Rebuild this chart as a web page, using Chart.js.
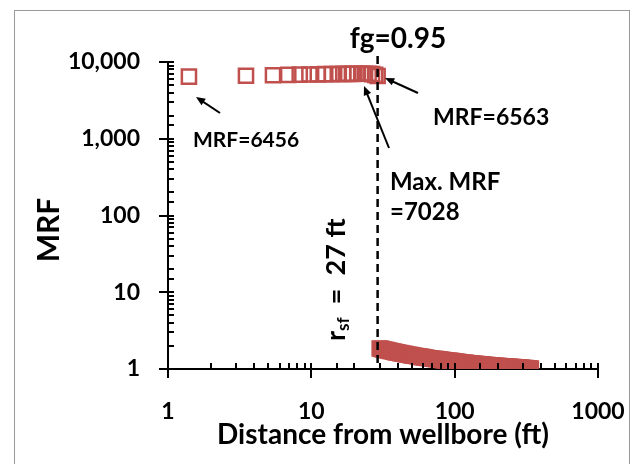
<!DOCTYPE html>
<html>
<head>
<meta charset="utf-8">
<script src="https://cdn.jsdelivr.net/npm/chart.js@4.4.1/dist/chart.umd.min.js"></script>
<style>
    html, body { margin: 0; padding: 0; background: #fff; }
    #wrap { position: relative; width: 632px; height: 464px; overflow: hidden; }
    #frame { position: absolute; left: 14px; top: 10px; width: 614px; height: 480px; border: 1px solid #999; }
    canvas { position: absolute; left: 0; top: 0; }
</style>
</head>
<body>
<div id="wrap">
    <div id="frame"></div>
    <canvas id="mrfChart" width="632" height="464"></canvas>
</div>
<script>
// Distance from wellbore (ft) and MRF, foam region (inside r_sf)
const innerDist = [1.4, 3.5, 5.4, 6.9, 8.3, 9.7, 11.1, 12.5, 13.9, 15.3, 16.7, 18.1, 19.5, 20.9, 22.3, 23.7, 25.1, 26.5, 27.9, 29.0];
const innerMrf = [6456, 6620, 6720, 6790, 6840, 6880, 6910, 6940, 6960, 6980, 6995, 7005, 7015, 7022, 7026, 7028, 7020, 6950, 6800, 6563];

// Outside the foam front
const outerDist = [30, 30.8, 31.7, 32.6, 33.5, 34.4, 35.4, 36.4, 37.4, 38.5,
    39.5, 40.6, 41.8, 42.9, 44.1, 45.4, 46.6, 47.9, 49.3, 50.7,
    52.1, 53.5, 55.0, 56.6, 58.2, 59.8, 61.5, 63.2, 64.9, 66.8,
    68.6, 70.6, 72.5, 74.6, 76.7, 78.8, 81.0, 83.3, 85.6, 88.0,
    90.5, 93.0, 95.6, 98.3, 101, 104, 107, 110, 113, 116,
    119, 122, 126, 129, 133, 137, 140, 144, 148, 153,
    157, 161, 166, 170, 175, 180, 185, 190, 196, 201,
    207, 213, 219, 225, 231, 237, 244, 251, 258, 265,
    272, 280, 288, 296, 304, 313, 321, 330, 340];
const outerMrf = [1.850, 1.828, 1.804, 1.782, 1.761, 1.741, 1.720, 1.701, 1.682, 1.662,
    1.646, 1.628, 1.610, 1.594, 1.578, 1.562, 1.547, 1.532, 1.517, 1.503,
    1.489, 1.477, 1.464, 1.451, 1.438, 1.426, 1.415, 1.403, 1.393, 1.382,
    1.372, 1.361, 1.352, 1.342, 1.332, 1.324, 1.315, 1.306, 1.298, 1.290,
    1.282, 1.274, 1.267, 1.259, 1.245, 1.237, 1.229, 1.222, 1.215, 1.208,
    1.201, 1.195, 1.188, 1.182, 1.175, 1.168, 1.163, 1.157, 1.151, 1.144,
    1.139, 1.134, 1.128, 1.123, 1.118, 1.113, 1.108, 1.103, 1.098, 1.094,
    1.089, 1.085, 1.080, 1.076, 1.072, 1.068, 1.064, 1.060, 1.056, 1.052,
    1.048, 1.044, 1.040, 1.036, 1.032, 1.027, 1.023, 1.018, 1.013];

const rsfLine = 29; // dashed marker of foam front
const xTickLabels = ["1", "10", "100", "1000"];
const yTickLabels = ["1", "10", "100", "1,000", "10,000"];

const RED = "#c0504d";
const FONT = "Lato, 'Open Sans', sans-serif";

function toPoints(xs, ys) {
    return xs.map((x, i) => ({ x: x, y: ys[i] }));
}

function isPow10(v) {
    const l = Math.log10(v);
    return Math.abs(l - Math.round(l)) < 1e-9;
}

function arrow(ctx, x1, y1, x2, y2) {
    const a = Math.atan2(y2 - y1, x2 - x1);
    const h = 10;
    ctx.beginPath();
    ctx.moveTo(x1, y1);
    ctx.lineTo(x2 - Math.cos(a) * 6, y2 - Math.sin(a) * 6);
    ctx.stroke();
    ctx.beginPath();
    ctx.moveTo(x2, y2);
    ctx.lineTo(x2 - h * Math.cos(a - 0.4), y2 - h * Math.sin(a - 0.4));
    ctx.lineTo(x2 - h * Math.cos(a + 0.4), y2 - h * Math.sin(a + 0.4));
    ctx.closePath();
    ctx.fill();
}

// tick marks: major cross the axis, minor point inward
const tickMarks = {
    id: "tickMarks",
    afterDraw(chart) {
        const { ctx, chartArea: ca, scales } = chart;
        ctx.save();
        ctx.strokeStyle = "#000";
        ctx.lineWidth = 2;
        scales.x.ticks.forEach((t) => {
            const px = Math.round(scales.x.getPixelForValue(t.value));
            const major = isPow10(t.value);
            ctx.beginPath();
            ctx.moveTo(px, ca.bottom - 6);
            ctx.lineTo(px, major ? ca.bottom + 9 : ca.bottom);
            ctx.stroke();
        });
        scales.y.ticks.forEach((t) => {
            const py = Math.round(scales.y.getPixelForValue(t.value));
            const major = isPow10(t.value);
            ctx.beginPath();
            ctx.moveTo(major ? ca.left - 9 : ca.left, py);
            ctx.lineTo(ca.left + 6, py);
            ctx.stroke();
        });
        ctx.restore();
    },
};

// dashed front line, y title and the text callouts
const callouts = {
    id: "callouts",
    afterDatasetsDraw(chart) {
        const { ctx, chartArea: ca, scales } = chart;
        const lx = scales.x.getPixelForValue(rsfLine);
        ctx.save();
        ctx.strokeStyle = "#000";
        ctx.fillStyle = "#000";
        ctx.lineWidth = 2.5;
        ctx.setLineDash([8, 5]);
        ctx.beginPath();
        ctx.moveTo(lx, 56);
        ctx.lineTo(lx, ca.bottom);
        ctx.stroke();
        ctx.setLineDash([]);

        ctx.lineWidth = 2;
        arrow(ctx, 220, 113, 196, 97);
        arrow(ctx, 418, 93, 385, 78);
        arrow(ctx, 389, 148, 364, 86);

        ctx.font = "bold 28px " + FONT;
        ctx.textAlign = "center";
        ctx.textBaseline = "middle";
        ctx.fillText("fg=0.95", 398, 39);

        ctx.textAlign = "left";
        ctx.font = "bold 21px " + FONT;
        ctx.fillText("MRF=6456", 193, 140);
        ctx.font = "bold 23px " + FONT;
        ctx.fillText("MRF=6563", 433, 118);
        ctx.font = "bold 24px " + FONT;
        ctx.fillText("Max. MRF", 390, 182);
        ctx.fillText("=7028", 390, 212);

        // y axis title
        ctx.save();
        ctx.translate(49, 230);
        ctx.rotate(-Math.PI / 2);
        ctx.textAlign = "center";
        ctx.font = "bold 30px " + FONT;
        ctx.fillText("MRF", 0, 0);
        ctx.restore();

        // r_sf = 27 ft, rotated
        ctx.translate(345, 341);
        ctx.rotate(-Math.PI / 2);
        ctx.textBaseline = "alphabetic";
        ctx.font = "bold 27px " + FONT;
        ctx.fillText("r", 0, 0);
        let w = ctx.measureText("r").width;
        ctx.font = "bold 17px " + FONT;
        ctx.fillText("sf", w, 4);
        w += ctx.measureText("sf").width;
        ctx.font = "bold 27px " + FONT;
        ctx.fillText("  =  27 ft", w, 0);
        ctx.restore();
    },
};

new Chart(document.getElementById("mrfChart"), {
    type: "scatter",
    data: {
        datasets: [
            {
                data: toPoints(innerDist, innerMrf),
                pointStyle: "rect",
                pointRadius: 10,
                borderColor: RED,
                backgroundColor: "rgba(0,0,0,0)",
                borderWidth: 2.5,
            },
            {
                data: toPoints(outerDist, outerMrf),
                pointStyle: "rect",
                pointRadius: 10,
                borderColor: RED,
                backgroundColor: "rgba(0,0,0,0)",
                borderWidth: 2.5,
            },
        ],
    },
    options: {
        responsive: false,
        animation: false,
        layout: { padding: { left: 0, right: 34, top: 62, bottom: 0 } },
        plugins: { legend: { display: false }, tooltip: { enabled: false } },
        scales: {
            x: {
                type: "logarithmic",
                min: 1,
                max: 1000,
                afterFit: (s) => {
                    s.height = 95;
                    s.paddingLeft = 0;
                    s.paddingRight = 0;
                },
                grid: { display: false, drawTicks: false },
                border: { display: true, color: "#000", width: 2 },
                ticks: {
                    autoSkip: false,
                    maxRotation: 0,
                    padding: 29,
                    color: "#000",
                    font: { family: FONT, size: 23, weight: "bold" },
                    callback: (v) => (isPow10(v) ? xTickLabels[Math.round(Math.log10(v))] : ""),
                },
                title: {
                    display: true,
                    text: "Distance from wellbore (ft)",
                    color: "#000",
                    font: { family: FONT, size: 28, weight: "bold" },
                    padding: { top: 12, bottom: 12 },
                },
            },
            y: {
                type: "logarithmic",
                min: 1,
                max: 10000,
                afterFit: (s) => {
                    s.width = 168;
                    s.paddingTop = 0;
                    s.paddingBottom = 0;
                },
                grid: { display: false, drawTicks: false },
                border: { display: true, color: "#000", width: 2 },
                ticks: {
                    autoSkip: false,
                    padding: 28,
                    color: "#000",
                    font: { family: FONT, size: 23, weight: "bold" },
                    callback: (v) => (isPow10(v) ? yTickLabels[Math.round(Math.log10(v))] : ""),
                },
                title: { display: false },
            },
        },
    },
    plugins: [tickMarks, callouts],
});
</script>
</body>
</html>
